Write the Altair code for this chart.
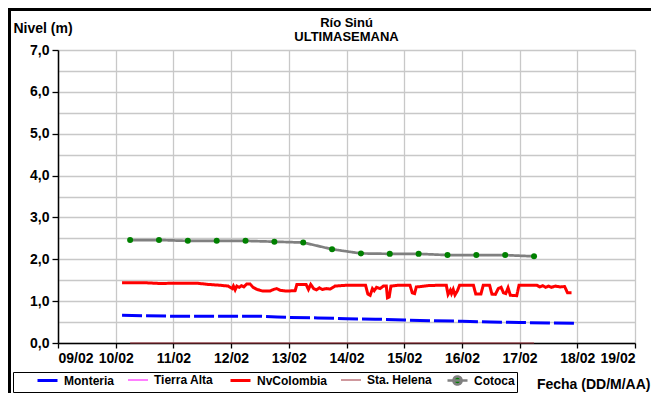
import altair as alt
import pandas as pd

# ---------------- data (day of February, level in m) ----------------
series_names = ["Monteria", "Tierra Alta", "NvColombia", "Sta. Helena", "Cotoca"]
series_colors = ["#0000ff", "#ff00ff", "#ff0000", "#a0323c", "#808080"]
series_widths = [3.0, 1.2, 3.0, 1.2, 2.7]

monteria_dia = [10.11, 10.5, 11.0, 11.5, 12.0, 12.5, 12.8, 13.0, 13.5, 14.0, 14.5,
                15.0, 15.5, 16.0, 16.5, 17.0, 17.5, 17.97]
monteria_niv = [0.66, 0.65, 0.64, 0.64, 0.64, 0.64, 0.62, 0.61, 0.60, 0.58, 0.57,
                0.55, 0.53, 0.52, 0.50, 0.49, 0.48, 0.47]

tierra_alta_dia = []
tierra_alta_niv = []

nvcolombia_dia = [10.11, 10.5, 10.8, 11.0, 11.2, 11.4, 11.6, 11.8, 11.95, 12.02, 12.04,
                  12.07, 12.10, 12.14, 12.18, 12.22, 12.27, 12.33, 12.38, 12.45, 12.55,
                  12.67, 12.74, 12.79, 12.85, 12.96, 13.11, 13.14, 13.30, 13.34, 13.38,
                  13.43, 13.48, 13.53, 13.58, 13.65, 13.72, 13.80, 13.90, 14.0, 14.33,
                  14.37, 14.41, 14.45, 14.48, 14.52, 14.58, 14.64, 14.69, 14.71, 14.74,
                  14.77, 14.9, 15.1, 15.14, 15.18, 15.21, 15.3, 15.4, 15.6, 15.73,
                  15.76, 15.80, 15.82, 15.85, 15.88, 15.92, 15.96, 16.2, 16.24, 16.33,
                  16.37, 16.48, 16.52, 16.58, 16.63, 16.68, 16.72, 16.76, 16.80, 16.84,
                  16.95, 16.99, 17.3, 17.35, 17.40, 17.45, 17.50, 17.55, 17.62, 17.70,
                  17.78, 17.83, 17.90]
nvcolombia_niv = [1.44, 1.44, 1.42, 1.43, 1.43, 1.43, 1.40, 1.38, 1.36, 1.30, 1.36,
                  1.27, 1.36, 1.33, 1.37, 1.34, 1.41, 1.41, 1.33, 1.28, 1.24,
                  1.24, 1.28, 1.30, 1.26, 1.24, 1.25, 1.40, 1.40, 1.28, 1.40,
                  1.30, 1.27, 1.32, 1.28, 1.30, 1.29, 1.36, 1.37, 1.38, 1.38,
                  1.17, 1.14, 1.30, 1.25, 1.33, 1.30, 1.36, 1.36, 1.08, 1.10,
                  1.36, 1.38, 1.38, 1.20, 1.18, 1.34, 1.35, 1.37, 1.38, 1.38,
                  1.16, 1.26, 1.18, 1.28, 1.15, 1.24, 1.38, 1.38, 1.17, 1.17,
                  1.38, 1.38, 1.17, 1.16, 1.30, 1.33, 1.20, 1.18, 1.32, 1.14,
                  1.13, 1.38, 1.38, 1.34, 1.37, 1.33, 1.36, 1.33, 1.36, 1.34,
                  1.35, 1.20, 1.20]

sta_helena_dia = [10.25, 10.75, 11.25, 11.75, 12.25, 12.75, 13.25, 13.75, 14.25, 14.75,
                  15.25, 15.75, 16.25, 16.75, 17.25]
sta_helena_niv = [0.0] * 15

cotoca_dia = [10.25, 10.75, 11.25, 11.75, 12.25, 12.75, 13.25, 13.75, 14.25, 14.75,
              15.25, 15.75, 16.25, 16.75, 17.25]
cotoca_niv = [2.46, 2.46, 2.44, 2.44, 2.44, 2.42, 2.40, 2.24, 2.14, 2.13,
              2.13, 2.10, 2.10, 2.10, 2.07]

x_ticks = list(range(9, 20))
y_ticks = [i * 0.5 for i in range(15)]

titulo = ["Río Sinú", "ULTIMASEMANA"]

# ---------------- long table ----------------
frames = []
for name, d, v in [("Monteria", monteria_dia, monteria_niv),
                   ("Tierra Alta", tierra_alta_dia, tierra_alta_niv),
                   ("NvColombia", nvcolombia_dia, nvcolombia_niv),
                   ("Sta. Helena", sta_helena_dia, sta_helena_niv),
                   ("Cotoca", cotoca_dia, cotoca_niv)]:
    frames.append(pd.DataFrame({"dia": d, "nivel": v, "serie": [name] * len(d)}))
df = pd.concat(frames, ignore_index=True)

FONT = "Liberation Sans"
line_path = "M-2,0L2,0"
cotoca_path = "M-2,0L2,0M0.8,0A0.8,0.8,0,1,1,-0.8,0A0.8,0.8,0,1,1,0.8,0Z"

legend = alt.Legend(
    orient="none", legendX=-45, legendY=322, direction="horizontal",
    strokeColor="black", padding=2, title="\u00a0", titleOrient="left",
    titlePadding=21, titleFontSize=12,
    labelFont=FONT, labelFontSize=12, labelFontWeight="bold", labelColor="black",
    symbolSize=100, symbolOffset=5, columnPadding=10, gridAlign="none",
    labelOffset=10,
    labelExpr="datum.label === 'Cotoca' ? 'Cotoca\u00a0\u00a0\u00a0\u00a0\u00a0\u00a0\u00a0\u00a0\u00a0' : datum.label",
    symbolType={"expr": "datum.value === 'Cotoca' ? '" + cotoca_path + "' : '" + line_path + "'"},
    symbolFillColor={"expr": "datum.value === 'Cotoca' ? '#008000' : 'transparent'"},
    symbolStrokeWidth={"expr": "(datum.value === 'Monteria' || datum.value === 'NvColombia') ? 3.5 : (datum.value === 'Cotoca' ? 2 : 1.2)"},
)

x_axis = alt.Axis(
    values=x_ticks, labelExpr="format(datum.value, '02d') + '/02'",
    grid=True, gridColor="#c8c8c8", gridWidth=1.3,
    domainColor="black", domainWidth=1.5, tickColor="black", tickSize=5, tickWidth=1.3,
    labelFont=FONT, labelFontSize=14, labelFontWeight="bold", labelColor="black",
    labelPadding=3, title="Fecha (DD/M/AA)", titleFont=FONT, titleFontSize=14,
    titleFontWeight="bold", titleColor="black", titleAlign="right",
    titleBaseline="middle", titleX=592, titleY=41, titleAnchor="start", zindex=0,
)

y_axis = alt.Axis(
    values=y_ticks,
    labelExpr="datum.value % 1 === 0 ? replace(format(datum.value, '.1f'), '.', ',') : ''",
    grid=True, gridColor="#c8c8c8", gridWidth=1.3,
    domainColor="black", domainWidth=1.5,
    tickColor={"condition": {"test": "datum.value % 1 === 0", "value": "black"}, "value": "transparent"},
    tickSize=6, tickWidth=1.3,
    labelFont=FONT, labelFontSize=14, labelFontWeight="bold", labelColor="black",
    labelPadding=3, title="Nivel (m)", titleFont=FONT, titleFontSize=14,
    titleFontWeight="bold", titleColor="black", titleAngle=0, titleAlign="left",
    titleBaseline="middle", titleX=-45, titleY=-22, titleAnchor="start", zindex=0,
)

base = alt.Chart(df).encode(
    x=alt.X("dia:Q", scale=alt.Scale(domain=[9, 19], nice=False, zero=False), axis=x_axis),
    y=alt.Y("nivel:Q", scale=alt.Scale(domain=[0, 7], nice=False), axis=y_axis),
)

lines = base.mark_line(interpolate="linear").encode(
    color=alt.Color("serie:N", scale=alt.Scale(domain=series_names, range=series_colors), legend=legend),
    strokeWidth=alt.StrokeWidth("serie:N", scale=alt.Scale(type="ordinal", domain=series_names,
                                range=series_widths), legend=None),
    strokeDash=alt.StrokeDash("serie:N", scale=alt.Scale(domain=series_names,
                              range=[[20, 4], [1, 0], [1, 0], [1, 0], [1, 0]]), legend=None),
    order=alt.Order("dia:Q"),
)

points = base.mark_circle(size=36, color="#008000", opacity=1).transform_filter(
    "datum.serie === 'Cotoca'"
)

one = pd.DataFrame({"k": [0]})
frame_top = alt.Chart(one).mark_rule(color="black", strokeWidth=3).encode(
    x=alt.value(-50), x2=alt.value(593), y=alt.value(-40.5))
frame_left = alt.Chart(one).mark_rule(color="black", strokeWidth=3).encode(
    x=alt.value(-48.5), y=alt.value(-42), y2=alt.value(343))
title1 = alt.Chart(one).mark_text(text=titulo[0], font=FONT, fontSize=13, fontWeight="bold",
                                  color="black", align="center", baseline="alphabetic").encode(
    x=alt.value(288.5), y=alt.value(-23))
title2 = alt.Chart(one).mark_text(text=titulo[1], font=FONT, fontSize=13, fontWeight="bold",
                                  color="black", align="center", baseline="alphabetic").encode(
    x=alt.value(288.5), y=alt.value(-9))

chart = alt.layer(frame_top, frame_left, title1, title2, lines, points).properties(
    width=577, height=293,
    padding={"left": 50, "top": 42, "right": 16, "bottom": 50},
    autosize="none",
).configure_view(stroke="transparent").configure(background="white", font=FONT)

chart.save("out.html", embed_options={"renderer": "svg", "actions": False})
